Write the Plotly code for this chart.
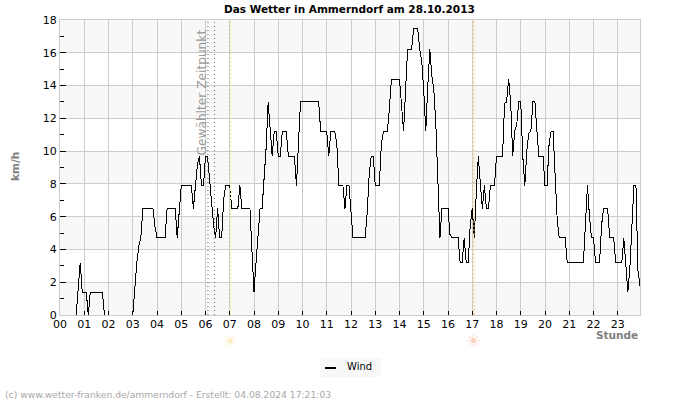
import plotly.graph_objects as go

title = "Das Wetter in Ammerndorf am 28.10.2013"
footer = "(c) www.wetter-franken.de/ammerndorf - Erstellt: 04.08.2024 17:21:03"
hour_labels = [f"{h:02d}" for h in range(24)]
hours = list(range(24))
selected_times = [6.1, 6.37]
sunrise = 7.03
sunset = 17.07

wind_by_hour = [
    [0, 0, 0, 0, 0, 0, 0, 0, 0, 1.4, 3.2, 1.4],
    [1.4, 1.4, 0, 1.4, 1.4, 1.4, 1.4, 1.4, 1.4, 1.4, 0, 0],
    [0, 0, 0, 0, 0, 0, 0, 0, 0, 0, 0, 0],
    [0, 1.8, 3.2, 4.2, 4.7, 6.5, 6.5, 6.5, 6.5, 6.5, 6.5, 5.4],
    [4.7, 4.7, 4.7, 4.7, 4.7, 6.5, 6.5, 6.5, 6.5, 6.5, 4.7, 6.5],
    [7.9, 7.9, 7.9, 7.9, 7.9, 7.9, 6.5, 7.9, 9.2, 9.7, 7.9, 7.9],
    [9.7, 9.7, 8.3, 6.5, 5.5, 4.7, 6.5, 4.7, 4.7, 7.1, 7.9, 7.9],
    [7.9, 6.5, 6.5, 6.5, 6.5, 7.9, 6.5, 6.5, 6.5, 6.5, 6.5, 3.9],
    [1.4, 3.2, 4.7, 6.5, 6.5, 8.3, 10.2, 13, 11.2, 9.7, 11.2, 11.2],
    [9.7, 9.7, 11.2, 11.2, 11.2, 9.7, 9.7, 9.7, 9.7, 7.9, 10.4, 13],
    [13, 13, 13, 13, 13, 13, 13, 13, 13, 11.2, 11.2, 11.2],
    [11.2, 9.7, 11.2, 11.2, 11.2, 10.4, 7.9, 7.9, 7.9, 6.5, 7.9, 7.9],
    [6.5, 4.7, 4.7, 4.7, 4.7, 4.7, 4.7, 4.7, 6.2, 8.6, 9.7, 9.7],
    [7.9, 7.9, 7.9, 10.4, 11.2, 11.2, 11.2, 12.6, 14.4, 14.4, 14.4, 14.4],
    [14.4, 12.8, 11.2, 13.7, 16.2, 16.2, 16.2, 17.5, 17.5, 17.5, 16.2, 15.5],
    [13.7, 11.2, 14, 16.2, 14.6, 13.7, 11.6, 7.5, 4.7, 6.5, 6.5, 6.5],
    [6.5, 4.9, 4.7, 4.7, 4.7, 4.7, 3.2, 3.2, 4.7, 3.2, 3.2, 5.5],
    [6.5, 4.7, 7.5, 9.7, 8, 6.5, 7.9, 6.5, 6.5, 7.9, 7.9, 7.9],
    [9.7, 9.7, 9.7, 9.7, 12.9, 13, 14.4, 13, 9.7, 11.2, 11.6, 13],
    [13, 9.7, 7.9, 10, 11.1, 11.2, 13, 13, 11.2, 9.7, 9.7, 9.7],
    [7.9, 7.9, 10.4, 11.2, 11.2, 8.5, 5.9, 4.7, 4.7, 4.7, 4.7, 3.2],
    [3.2, 3.2, 3.2, 3.2, 3.2, 3.2, 3.2, 3.2, 5.5, 7.9, 6, 4.7],
    [4.7, 3.2, 3.2, 3.2, 5.5, 6.5, 6.5, 6.5, 4.7, 4.7, 4.7, 3.2],
    [3.2, 3.2, 3.2, 4.7, 2.7, 1.4, 2.9, 5.5, 7.9, 7.9, 2.7, 1.8],
]

wind = [v for row in wind_by_hour for v in row]
times = [i / 12 for i in range(len(wind))]
# the reference draws no line along the axis while the wind is calm
shown = [
    None if v == 0 and wind[max(i - 1, 0)] == 0 and wind[min(i + 1, len(wind) - 1)] == 0 else v
    for i, v in enumerate(wind)
]

fig = go.Figure()
fig.add_trace(go.Scatter(x=times, y=shown, mode="lines", name="Wind", showlegend=False,
                         line=dict(color="#000000", width=1), connectgaps=False))
# sun markers below the axis
fig.add_trace(go.Scatter(x=[sunrise], y=[-1.6], mode="markers", showlegend=False, cliponaxis=False,
                         marker=dict(symbol="circle", size=7, color="#ffe79e", line_width=0)))
fig.add_trace(go.Scatter(x=[sunset], y=[-1.6], mode="markers", showlegend=False, cliponaxis=False,
                         marker=dict(symbol="circle", size=7, color="#ffb7a0", line_width=0)))

shapes = []
for lo in range(0, 18, 4):
    shapes.append(dict(type="rect", xref="paper", yref="y", x0=0, x1=1, y0=lo, y1=lo + 2,
                       fillcolor="#f8f8f8", line_width=0, layer="below"))
for t in selected_times:
    shapes.append(dict(type="line", xref="x", yref="paper", x0=t, x1=t, y0=0, y1=1,
                       line=dict(color="#666666", width=1, dash="1px,3px")))
shapes.append(dict(type="line", xref="x", yref="paper", x0=sunrise, x1=sunrise, y0=0, y1=1,
                   line=dict(color="#f8ec80", width=1, dash="2px,2px")))
shapes.append(dict(type="line", xref="x", yref="paper", x0=sunset, x1=sunset, y0=0, y1=1,
                   line=dict(color="#ffc060", width=1, dash="2px,2px")))
# legend box
shapes.append(dict(type="rect", xref="paper", yref="paper",
                   x0=(320 - 60) / 580, x1=(381 - 60) / 580,
                   y0=(315 - 377) / 295, y1=(315 - 358) / 295,
                   fillcolor="#f8f8f8", line_width=0))
shapes.append(dict(type="line", xref="paper", yref="paper",
                   x0=(325 - 60) / 580, x1=(336 - 60) / 580,
                   y0=(315 - 368) / 295, y1=(315 - 368) / 295,
                   line=dict(color="#000000", width=2)))

F = "DejaVu Sans"
annotations = [
    dict(text=f"<b>{title}</b>", xref="paper", yref="paper", x=(349 - 60) / 580, y=(315 - 9) / 295,
         showarrow=False, font=dict(family=F, size=10.5, color="#000000"), xanchor="center", yanchor="middle"),
    dict(text="<b>km/h</b>", xref="paper", yref="paper", x=(15 - 60) / 580, y=(315 - 167) / 295,
         showarrow=False, textangle=-90, font=dict(family=F, size=10.5, color="#808080"),
         xanchor="center", yanchor="middle"),
    dict(text="<b>Stunde</b>", xref="paper", yref="paper", x=(640 - 60) / 580, y=(315 - 334.5) / 295,
         showarrow=False, font=dict(family=F, size=10.5, color="#808080"), xanchor="right", yanchor="middle"),
    dict(text="Gewählter Zeitpunkt", xref="paper", yref="paper", x=(201 - 60) / 580, y=(315 - 92.5) / 295,
         showarrow=False, textangle=-90, font=dict(family=F, size=12.2, color="#999999"),
         xanchor="center", yanchor="middle"),
    dict(text="Wind", xref="paper", yref="paper", x=(345 - 60) / 580, y=(315 - 367) / 295,
         showarrow=False, font=dict(family=F, size=10, color="#000000"), xanchor="left", yanchor="middle"),
    dict(text="☀", xref="x", yref="paper", x=sunrise, y=(315 - 341) / 295,
         showarrow=False, font=dict(family=F, size=17, color="#ffefc0"), xanchor="center", yanchor="middle"),
    dict(text="☀", xref="x", yref="paper", x=sunset, y=(315 - 341) / 295,
         showarrow=False, font=dict(family=F, size=17, color="#ffd0c0"), xanchor="center", yanchor="middle"),
    dict(text=footer, xref="paper", yref="paper", x=(3 - 60) / 580, y=(315 - 394) / 295,
         showarrow=False, font=dict(family=F, size=9.2, color="#a8a8a8"), xanchor="left", yanchor="middle"),
]

fig.update_layout(
    width=700, height=400, margin=dict(l=60, r=60, t=20, b=85),
    paper_bgcolor="#ffffff", plot_bgcolor="#ffffff", showlegend=False,
    shapes=shapes, annotations=annotations,
    font=dict(family=F, size=11, color="#000000"),
    xaxis=dict(range=[0, 23.917], tickmode="array", tickvals=hours, ticktext=hour_labels,
               ticks="inside", ticklen=4, tickcolor="#000000", tickwidth=1,
               showgrid=True, gridcolor="#cccccc", gridwidth=1.2, zeroline=False,
               showline=True, linecolor="#cccccc", linewidth=1, mirror=True,
               ticklabelstandoff=-1, tickfont=dict(size=11)),
    yaxis=dict(range=[0, 18], tickmode="linear", tick0=0, dtick=2,
               ticks="inside", ticklen=6, tickcolor="#000000", tickwidth=1,
               minor=dict(dtick=1, ticks="inside", ticklen=4, tickcolor="#000000", showgrid=False),
               showgrid=True, gridcolor="#cccccc", gridwidth=1.2, zeroline=False,
               showline=True, linecolor="#cccccc", linewidth=1, mirror=True,
               tickfont=dict(size=11)),
)

fig.write_html(
    "out.html",
    config={"displayModeBar": False},
    post_script="document.body.style.margin='0';"
                "document.querySelectorAll('.scatterlayer .js-line').forEach(function(p){p.style.shapeRendering='crispEdges';});",
)
